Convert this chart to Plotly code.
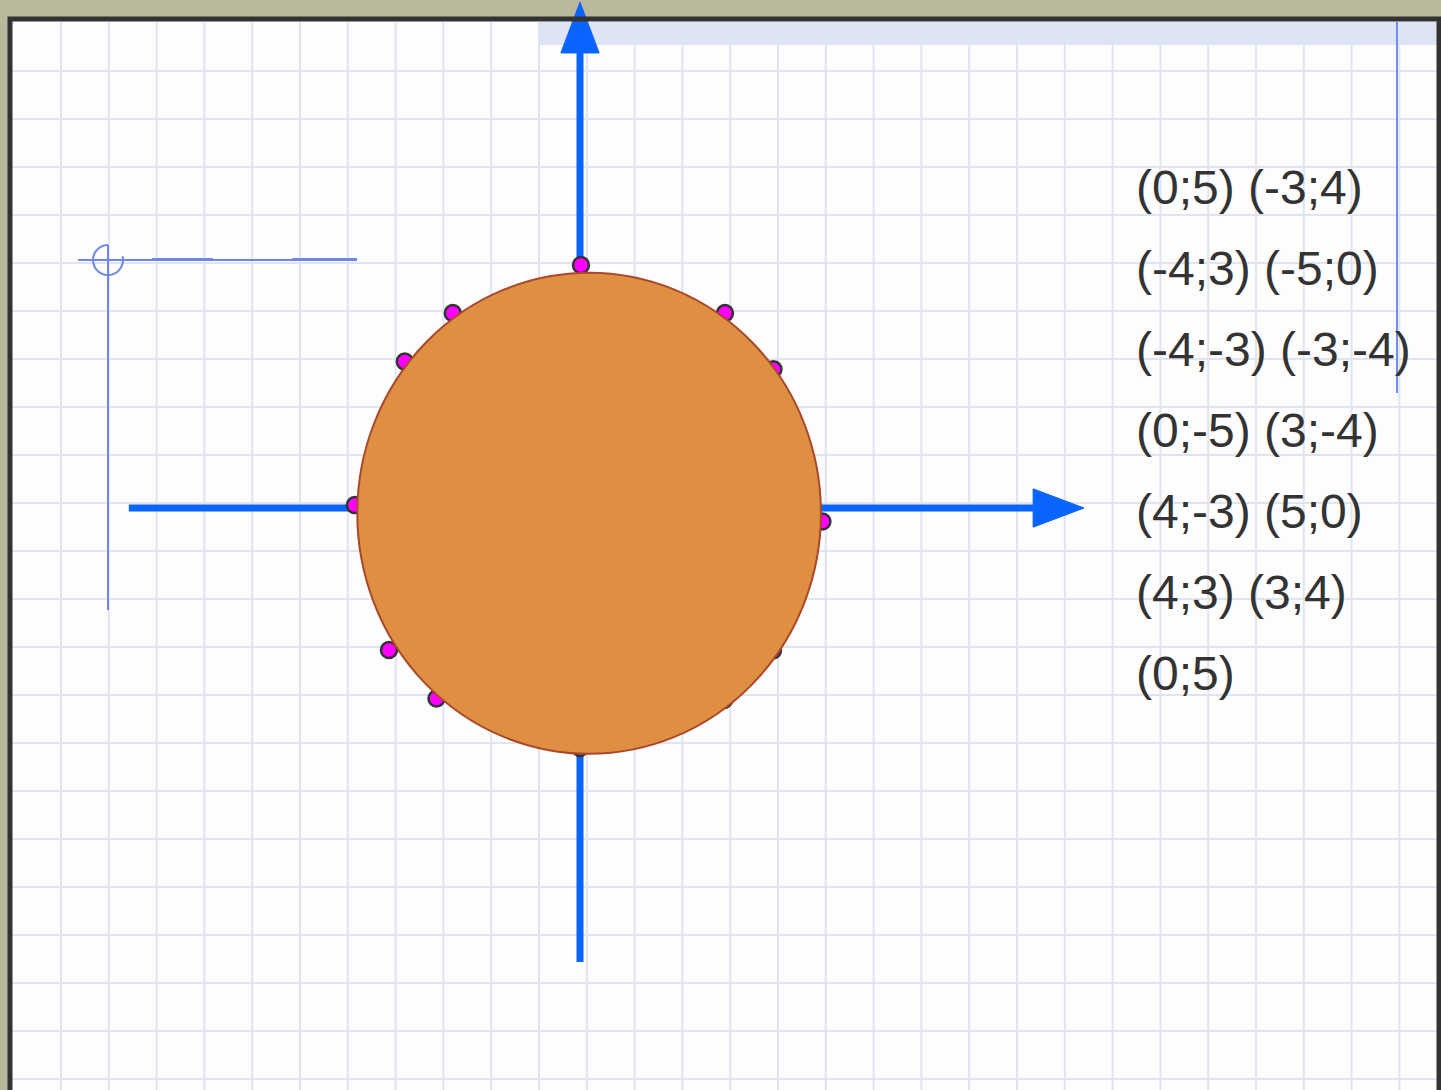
import numpy as np
import plotly.graph_objects as go

W, H = 1441, 1090

# ---- data (math coordinates, 1 unit = one grid cell) ----
point_labels = ["(0;5)", "(-3;4)", "(-4;3)", "(-5;0)", "(-4;-3)", "(-3;-4)",
                "(0;-5)", "(3;-4)", "(4;-3)", "(5;0)", "(4;3)", "(3;4)"]
point_x = [0.02, -2.65, -3.65, -4.69, -3.98, -2.99, 0.0, 3.0, 4.02, 5.05, 4.03, 3.02]
point_y = [5.06, 4.06, 3.05, 0.06, -2.96, -3.97, -5.0, -4.0, -2.97, -0.28, 2.89, 4.06]

circle_cx, circle_cy = 0.19, -0.11
circle_rx, circle_ry = 4.83, 5.01

text_lines = ["(0;5) (-3;4)", "(-4;3) (-5;0)", "(-4;-3) (-3;-4)",
              "(0;-5) (3;-4)", "(4;-3) (5;0)", "(4;3) (3;4)", "(0;5)"]

# axis extents (math units)
y_axis_from, y_axis_to, y_arrow_tip = -9.46, 9.48, 10.54
x_axis_from, x_axis_to, x_arrow_tip = -9.40, 9.44, 10.50
arrow_half = 0.40

# ---- pixel <-> coordinate helpers ----
OX, OY, UNIT = 580.0, 508.0, 48.0
xr = [(0 - OX) / UNIT, (W - OX) / UNIT]
yr = [(OY - H) / UNIT, OY / UNIT]


def px(x):
    return x / W


def py(y):
    return 1 - y / H


shapes = []
# white sheet
shapes.append(dict(type="rect", xref="paper", yref="paper", x0=px(10), x1=px(1439),
                   y0=py(1100), y1=py(19), fillcolor="#fdfdfd", line_width=0, layer="below"))
# grid
GRID = "#e0e4f0"
for k in range(0, 29):
    gx = 61 + 47.8 * k
    if gx > 1436:
        break
    shapes.append(dict(type="line", xref="paper", yref="paper", x0=px(gx), x1=px(gx),
                       y0=py(1095), y1=py(22), line=dict(color=GRID, width=2), layer="below"))
for k in range(0, 22):
    gy = 71 + 48 * k
    if gy > 1090:
        break
    shapes.append(dict(type="line", xref="paper", yref="paper", x0=px(12), x1=px(1437),
                       y0=py(gy), y1=py(gy), line=dict(color=GRID, width=2), layer="below"))
# top hatched band
shapes.append(dict(type="rect", xref="paper", yref="paper", x0=px(540), x1=px(1438),
                   y0=py(45), y1=py(22), fillcolor="#dde4f3", line_width=0, layer="below"))
# thin blue vertical line on the right
DECO = "#6d86e8"
shapes.append(dict(type="line", xref="paper", yref="paper", x0=px(1397), x1=px(1397),
                   y0=py(393), y1=py(22), line=dict(color="#6f8ff0", width=2), layer="below"))
# left decoration: L-shape with small arc
shapes.append(dict(type="line", xref="paper", yref="paper", x0=px(108), x1=px(108),
                   y0=py(610), y1=py(245), line=dict(color=DECO, width=2), layer="below"))
shapes.append(dict(type="line", xref="paper", yref="paper", x0=px(78), x1=px(357),
                   y0=py(260), y1=py(260), line=dict(color=DECO, width=2), layer="below"))
for a, b in [(152, 213), (292, 357)]:
    shapes.append(dict(type="line", xref="paper", yref="paper", x0=px(a), x1=px(b),
                       y0=py(259.5), y1=py(259.5), line=dict(color=DECO, width=3), layer="below"))
ang = np.linspace(np.pi / 2, 2 * np.pi + 0.25, 40)
arc_pts = [(px(108 + 15 * np.cos(t)), py(260 - 15 * np.sin(t))) for t in ang]
arc_path = "M " + " L ".join(f"{a:.5f},{b:.5f}" for a, b in arc_pts)
shapes.append(dict(type="path", xref="paper", yref="paper", path=arc_path,
                   line=dict(color=DECO, width=2), layer="below"))

# coordinate axes with arrowheads (data coordinates)
AX = "#0a64ff"
shapes.append(dict(type="line", xref="x", yref="y", x0=0, x1=0, y0=y_axis_from, y1=y_axis_to,
                   line=dict(color=AX, width=7), layer="below"))
shapes.append(dict(type="line", xref="x", yref="y", x0=x_axis_from, x1=x_axis_to, y0=0, y1=0,
                   line=dict(color=AX, width=7), layer="below"))
shapes.append(dict(type="path", xref="x", yref="y",
                   path=f"M {-arrow_half},{y_axis_to} L {arrow_half},{y_axis_to} L 0,{y_arrow_tip} Z",
                   fillcolor=AX, line=dict(color=AX, width=1), layer="below"))
shapes.append(dict(type="path", xref="x", yref="y",
                   path=f"M {x_axis_to},{-arrow_half} L {x_axis_to},{arrow_half} L {x_arrow_tip},0 Z",
                   fillcolor=AX, line=dict(color=AX, width=1), layer="below"))

# the orange disc, above the points
shapes.append(dict(type="circle", xref="x", yref="y",
                   x0=circle_cx - circle_rx, x1=circle_cx + circle_rx,
                   y0=circle_cy - circle_ry, y1=circle_cy + circle_ry,
                   fillcolor="#df8f42", line=dict(color="#a9482a", width=2), layer="above"))
# dark frame
shapes.append(dict(type="rect", xref="paper", yref="paper", x0=px(10), x1=px(1439),
                   y0=py(1100), y1=py(19), line=dict(color="#333333", width=5), layer="above"))

fig = go.Figure()
fig.add_trace(go.Scatter(x=point_x, y=point_y, mode="markers", text=point_labels,
                         hoverinfo="text",
                         marker=dict(size=16, color="#ff00ff",
                                     line=dict(color="#333333", width=2.5))))

annotations = []
for i, t in enumerate(text_lines):
    annotations.append(dict(xref="paper", yref="paper", x=px(1134), y=py(187 + 81 * i),
                            xanchor="left", yanchor="middle", text=t, showarrow=False,
                            font=dict(family="Liberation Sans, Arial", size=48, color="#333333")))

fig.update_layout(
    width=W, height=H, autosize=False,
    margin=dict(l=0, r=0, t=0, b=0, pad=0),
    paper_bgcolor="#b9b89c", plot_bgcolor="rgba(0,0,0,0)",
    showlegend=False,
    xaxis=dict(range=xr, visible=False, fixedrange=True),
    yaxis=dict(range=yr, visible=False, fixedrange=True),
    shapes=shapes, annotations=annotations,
)

fig.write_html("out.html", config={"displayModeBar": False},
               post_script="document.body.style.margin='0';document.body.style.overflow='hidden';")
